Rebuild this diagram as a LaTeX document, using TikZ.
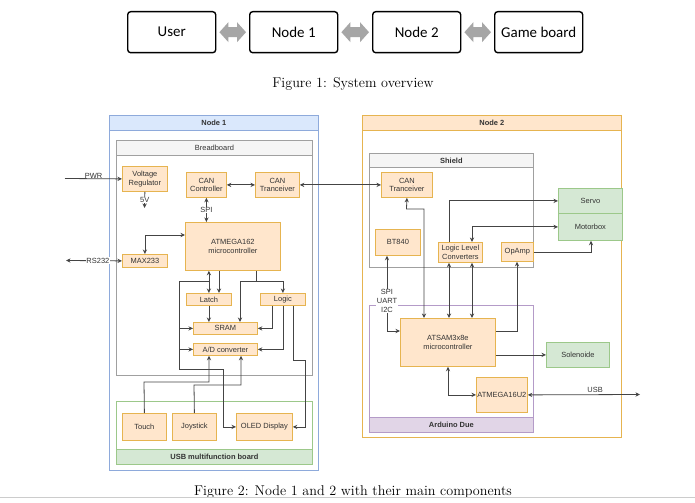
\documentclass[tikz,border=0pt]{standalone}
\usepackage{fontspec}
\usetikzlibrary{arrows.meta,calc}
\newfontfamily\dio{Liberation Sans}
\newfontfamily\calfont{Carlito}
\definecolor{ofill}{HTML}{FFE6CC}
\definecolor{ostroke}{HTML}{E6B450}
\definecolor{gfill}{HTML}{D5E8D4}
\definecolor{gstroke}{HTML}{9CC88A}
\definecolor{bfill}{HTML}{DAE8FC}
\definecolor{bstroke}{HTML}{8EAADB}
\definecolor{pfill}{HTML}{E1D5E7}
\definecolor{pstroke}{HTML}{B49BC8}
\definecolor{sfill}{HTML}{F5F5F5}
\definecolor{sstroke}{HTML}{A0A0A0}
\definecolor{wire}{HTML}{444444}
\definecolor{txt}{HTML}{333333}
\tikzset{
  x=1bp, y=-1bp,
  base/.style={anchor=north west, inner sep=1bp, align=center, text=txt,
    font=\dio\fontsize{7.5}{8.8}\selectfont, line width=0.8bp},
  obox/.style={base, draw=ostroke, fill=ofill},
  gbox/.style={base, draw=gstroke, fill=gfill},
  cont/.style={anchor=north west, inner sep=0pt, line width=0.8bp},
  hdr/.style={anchor=north west, inner sep=0pt, line width=0.8bp, text=txt,
    font=\dio\bfseries\fontsize{7.5}{8.8}\selectfont},
  topbox/.style={anchor=north west, draw=black, line width=1.4bp, rounded corners=3bp,
    font=\calfont\fontsize{15}{17}\selectfont, inner sep=0pt},
  wr/.style={draw=wire, line width=0.8bp, >={Stealth[length=4.5bp,width=4.2bp]}},
  lbl/.style={font=\dio\fontsize{7.5}{8.8}\selectfont, text=txt, fill=white, inner sep=0.6bp, align=center},
  capt/.style={font=\fontsize{14.2}{16}\selectfont},
}
\newcommand\fatarrow[2]{\fill[black!35] ($(#1.east)+(3,0)$) -- ++(9,-10) -- ++(0,5) -- ($(#2.west)+(-12,-5)$) -- ++(0,-5) -- ++(9,10) -- ++(-9,10) -- ++(0,-5) -- ($(#1.east)+(12,5)$) -- ++(0,5) -- cycle;}
\begin{document}
\begin{tikzpicture}
\useasboundingbox[fill=white] (0,0) rectangle (695,503);
% ---------- Figure 1 ----------
\node[topbox, minimum width=88bp, minimum height=41bp] (user) at (127,11) {User};
\node[topbox, minimum width=88bp, minimum height=41bp] (n1) at (249,11) {Node 1};
\node[topbox, minimum width=88bp, minimum height=41bp] (n2) at (372,11) {Node 2};
\node[topbox, minimum width=88bp, minimum height=41bp] (gb) at (494,11) {Game board};
\fatarrow{user}{n1}
\fatarrow{n1}{n2}
\fatarrow{n2}{gb}
\node[capt] (cap1) at (353,84) {Figure 1: System overview};
% ---------- Node 1 ----------
\node[cont, draw=bstroke, minimum width=209bp, minimum height=355bp] (node1) at (109,115) {};
\node[hdr, draw=bstroke, fill=bfill, minimum width=209bp, minimum height=15bp] (node1h) at (109,115) {Node 1};
\node[cont, draw=sstroke, minimum width=196bp, minimum height=235bp] (bread) at (116,140) {};
\node[hdr, draw=sstroke, fill=sfill, minimum width=196bp, minimum height=15bp, font=\dio\fontsize{7.5}{8.8}\selectfont] (breadh) at (116,140) {Breadboard};
\node[cont, draw=gstroke, minimum width=196bp, minimum height=63bp] (usbb) at (116,401) {};
\node[hdr, draw=gstroke, fill=gfill, minimum width=196bp, minimum height=15bp] (usbbh) at (116,449) {USB multifunction board};

\node[obox, minimum width=45bp, minimum height=25bp] (vreg) at (122,166) {Voltage\\Regulator};
\node[obox, minimum width=40bp, minimum height=25bp] (canc) at (186,172) {CAN\\Controller};
\node[obox, minimum width=44bp, minimum height=25bp] (cant1) at (255,172) {CAN\\Tranceiver};
\node[obox, minimum width=95bp, minimum height=48bp] (atm) at (185,222) {ATMEGA162\\microcontroller};
\node[obox, minimum width=45bp, minimum height=13bp] (max) at (122,254) {MAX233};
\node[obox, minimum width=45bp, minimum height=12bp] (latch) at (186,293) {Latch};
\node[obox, minimum width=45bp, minimum height=12bp] (logic) at (260,293) {Logic};
\node[obox, minimum width=64bp, minimum height=12bp] (sram) at (193,322) {SRAM};
\node[obox, minimum width=64bp, minimum height=12bp] (adc) at (193,343) {A/D converter};
\node[obox, minimum width=44bp, minimum height=27bp] (touch) at (122,413) {Touch};
\node[obox, minimum width=44bp, minimum height=27bp] (joy) at (172,413) {Joystick};
\node[obox, minimum width=56bp, minimum height=27bp] (oled) at (236,413) {OLED Display};

% ---------- Node 2 ----------
\node[cont, draw=ostroke, minimum width=259bp, minimum height=322bp] (node2) at (362,115) {};
\node[hdr, draw=ostroke, fill=ofill, minimum width=259bp, minimum height=15bp] (node2h) at (362,115) {Node 2};
\node[cont, draw=sstroke, minimum width=164bp, minimum height=114bp] (shield) at (369,153) {};
\node[hdr, draw=sstroke, fill=sfill, minimum width=164bp, minimum height=14bp] (shieldh) at (369,153) {Shield};
\node[cont, draw=pstroke, minimum width=164bp, minimum height=127bp] (due) at (369,305) {};
\node[hdr, draw=pstroke, fill=pfill, minimum width=164bp, minimum height=15bp] (dueh) at (369,417) {Arduino Due};

\node[obox, minimum width=51bp, minimum height=25bp] (cant2) at (381,172) {CAN\\Tranceiver};
\node[obox, minimum width=45bp, minimum height=26bp] (bt) at (375,229) {BT840};
\node[obox, minimum width=44bp, minimum height=20bp] (llc) at (438,242) {Logic Level\\Converters};
\node[obox, minimum width=32bp, minimum height=19bp] (opamp) at (501,242) {OpAmp};
\node[obox, minimum width=95bp, minimum height=48bp] (atsam) at (400,318) {ATSAM3x8e\\microcontroller};
\node[obox, minimum width=51bp, minimum height=35bp] (atm16) at (476,377) {ATMEGA16U2};
\node[gbox, minimum width=64bp, minimum height=25bp] (servo) at (558,188) {Servo};
\node[gbox, minimum width=64bp, minimum height=27bp] (motor) at (558,213) {Motorbox};
\node[gbox, minimum width=63bp, minimum height=25bp] (sol) at (546,342) {Solenoide};

% ---------- Connectors Node 1 ----------
\coordinate (pwr) at (65,178.5);
\draw[wr,->] (pwr) -- (vreg.west) node[midway, above=-0.5bp, lbl, fill=none] {PWR};
\coordinate (v5) at (144.5,208);
\draw[wr,->] (vreg.south) -- (v5) node[midway, lbl] {5V};
\draw[wr,<->] (canc) -- (cant1);
\draw[wr,<->] (cant1) -- (cant2);
\draw[wr,<->] (canc.south) -- (canc.south |- atm.north) node[midway, lbl] {SPI};
\draw[wr,<->] ($(atm.north west)+(0,13)$) -| (max.north);
\coordinate (rs) at (66,260.5);
\draw[wr,<->] (rs) -- (max.west) node[pos=0.57, lbl] {RS232};
\draw[wr,<->] (atm.south -| latch.north) -- (latch.north);
\draw[wr,->] ($(atm.south west)+(34,0)$) -- ($(latch.north west)+(33,0)$);
\coordinate (j1) at (256,281);
\draw[wr] (atm.south -| j1) -- (j1);
\draw[wr,->] (j1) -| (logic.north);
\draw[wr,->] (j1) -| ($(sram.north west)+(47,0)$);
\coordinate (b0) at (208.5,281);
\coordinate (b1) at (179,281);
\coordinate (b2) at (179,369);
\coordinate (b3) at (223,369);
\draw[wr,->] (b0) -- (b1) -- (b2) -- (b3) |- (oled.west);
\draw[wr,->] (b1 |- sram.west) -- (sram.west);
\draw[wr,->] (b1 |- adc.west) -- (adc.west);
\draw[wr,->] (latch.south) -- (latch.south |- sram.north);
\draw[wr,->] ($(logic.south west)+(12,0)$) |- (sram.east);
\draw[wr,->] (logic.south) |- (adc.east);
\coordinate (l1) at (293,360);
\coordinate (l2) at (305,360);
\draw[wr,->] ($(logic.south west)+(33,0)$) -- (l1) -- (l2) |- (oled.east);
\coordinate (t1) at (144,382);
\draw[wr,->] (touch.north) -- (t1) -| ($(adc.south west)+(16,0)$);
\coordinate (s1) at (194,385);
\draw[wr,->] (joy.north) -- (s1) -| ($(adc.south west)+(48,0)$);

% ---------- Connectors Node 2 ----------
\draw[wr,->] ($(llc.north west)+(11,0)$) |- (servo.west);
\draw[wr,<->] (motor.west) -| ($(llc.north west)+(34,0)$);
\draw[wr,->] (opamp.east) -| ($(motor.south west)+(33,0)$);
\coordinate (c1) at (406.5,209);
\draw[wr,<->] (cant2.south) -- (c1) -| ($(atsam.north west)+(24,0)$);
\draw[wr,<->] ($(llc.south west)+(11,0)$) -- ($(atsam.north west)+(49,0)$);
\draw[wr,<->] ($(llc.south west)+(34,0)$) -- ($(atsam.north west)+(72,0)$);
\draw[wr,<-] ($(opamp.south west)+(16,0)$) |- ($(atsam.north east)+(0,13)$);
\draw[wr,<->] ($(bt.south west)+(12,0)$) |- ($(atsam.north west)+(0,13)$)
  node[pos=0.3, lbl] {SPI\\UART\\I2C};
\draw[wr,->] (sol.west -| atsam.east) -- (sol.west);
\draw[wr,<->] ($(atsam.south west)+(48,0)$) |- (atm16.west);
\coordinate (usb) at (640,394.5);
\draw[wr,<->] (atm16.east) -- (usb) node[pos=0.6, above=1bp, lbl, fill=none] {USB};

% ---------- Caption 2 ----------
\node[capt] (cap2) at (353,492.5) {Figure 2: Node 1 and 2 with their main components};
\fill[white] (0,497.5) rectangle (695,503);
\draw[black!20, line width=0.8bp] (0,497) -- (695,497);
\end{tikzpicture}
\end{document}
